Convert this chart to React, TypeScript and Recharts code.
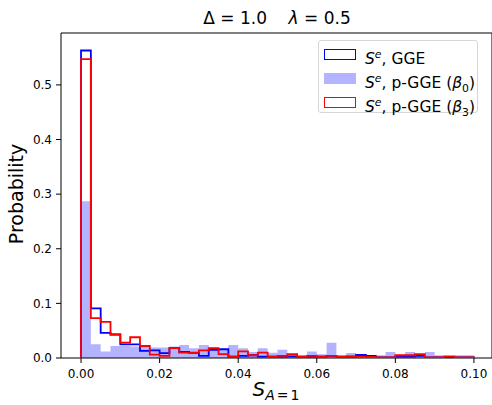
import React from 'react';
import { ComposedChart, Area, Line, XAxis, YAxis, ReferenceArea } from 'recharts';

// histogram bins: 40 bins of width 0.0025 from 0 to 0.1
const BIN_WIDTH = 0.0025;

// S^e, GGE (blue outline)
const gge = [
  0.563, 0.091, 0.046, 0.043, 0.025, 0.025, 0.013, 0.014, 0.009, 0.018,
  0.011, 0.0095, 0.004, 0.015, 0.016, 0.0025, 0.004, 0.005, 0.0025, 0.0025,
  0.0025, 0.003, 0.0025, 0.0025, 0.0025, 0.004, 0.0025, 0.0025, 0.0055, 0.004,
  0.001, 0.001, 0.0025, 0.0025, 0.004, 0.001, 0.001, 0.001, 0.001, 0.001,
];

// S^e, p-GGE (beta_0) (filled)
const pggeB0 = [
  0.287, 0.025, 0.012, 0.022, 0.022, 0.021, 0.02, 0.019, 0.019, 0.021,
  0.024, 0.018, 0.024, 0.019, 0.016, 0.024, 0.018, 0.011, 0.018, 0.0098,
  0.015, 0.006, 0.004, 0.012, 0.007, 0.028, 0.004, 0.009, 0.007, 0.004,
  0.005, 0.011, 0.004, 0.011, 0.004, 0.011, 0.005, 0.0025, 0.005, 0.005,
];

// S^e, p-GGE (beta_3) (red outline)
const pggeB3 = [
  0.547, 0.073, 0.066, 0.043, 0.028, 0.038, 0.022, 0.006, 0.004, 0.018,
  0.01, 0.01, 0.014, 0.018, 0.007, 0.0025, 0.012, 0.005, 0.01, 0.0025,
  0.004, 0.007, 0.0025, 0.004, 0.0025, 0.004, 0.0025, 0.003, 0.0025, 0.002,
  0.001, 0.001, 0.005, 0.005, 0.007, 0.001, 0.001, 0.003, 0.001, 0.001,
];

const xTicks = [0, 0.02, 0.04, 0.06, 0.08, 0.1];
const yTicks = [0, 0.1, 0.2, 0.3, 0.4, 0.5];

const X_DOMAIN: [number, number] = [-0.0051, 0.1046];
const Y_DOMAIN: [number, number] = [0, 0.595];

// step table: zero at left edge, one row per bin start, zero at right edge
const histData = [
  { x: 0, gge: 0, b0: 0, b3: 0 },
  ...gge.map((v, i) => ({ x: i * BIN_WIDTH, gge: v, b0: pggeB0[i], b3: pggeB3[i] })),
  { x: gge.length * BIN_WIDTH, gge: 0, b0: 0, b3: 0 },
];

const FONT = '"DejaVu Sans", sans-serif';
const tickStyle = { fontFamily: FONT, fontSize: 12, fill: '#000' };

const YLabel = () => (
  <text
    x={16}
    y={194}
    transform="rotate(-90, 16, 194)"
    textAnchor="middle"
    dominantBaseline="central"
    fontFamily={FONT}
    fontSize={19}
    fill="#000"
  >
    Probability
  </text>
);

const XLabel = () => (
  <text x={276} y={396} textAnchor="middle" fontFamily={FONT} fill="#000">
    <tspan fontSize={20} fontStyle="italic">S</tspan>
    <tspan fontSize={14} fontStyle="italic" dy={4}>A</tspan>
    <tspan fontSize={14} dx={2}>=</tspan>
    <tspan fontSize={14} dx={2}>1</tspan>
  </text>
);

const legendItems = [
  { kind: 'outline', color: '#0000ff', label: 'GGE', beta: null },
  { kind: 'fill', color: '#b3b3ff', label: 'p-GGE', beta: '0' },
  { kind: 'outline', color: '#ff0000', label: 'p-GGE', beta: '3' },
];

function ChartLegend() {
  return (
    <div
      style={{
        position: 'absolute',
        left: 318,
        top: 40,
        width: 160,
        height: 73,
        boxSizing: 'border-box',
        border: '1px solid #d6d6d6',
        borderRadius: 3,
        background: 'rgba(255,255,255,0.8)',
        fontFamily: FONT,
        fontSize: 15.5,
        color: '#000',
      }}
    >
      {legendItems.map((it, i) => (
        <div key={i} style={{ position: 'absolute', left: 0, top: 13.5 + i * 24 - 12, height: 24, width: '100%' }}>
          <div
            style={{
              position: 'absolute',
              left: 5,
              top: 6.5,
              width: 32,
              height: 11,
              boxSizing: 'border-box',
              border: it.kind === 'outline' ? `1.8px solid ${it.color}` : 'none',
              background: it.kind === 'outline' ? '#fff' : it.color,
            }}
          />
          <div style={{ position: 'absolute', left: 46, top: 1, whiteSpace: 'nowrap', lineHeight: '22px' }}>
            <i>S</i>
            <sup style={{ fontSize: '0.7em', fontStyle: 'italic' }}>e</sup>, {it.label}
            {it.beta !== null && (
              <>
                {' ('}
                <i>β</i>
                <sub style={{ fontSize: '0.7em' }}>{it.beta}</sub>
                {')'}
              </>
            )}
          </div>
        </div>
      ))}
    </div>
  );
}

export default function App() {
  return (
    <div style={{ position: 'absolute', left: 0, top: 0, width: 492, height: 405, background: '#fff' }}>
      <div
        style={{
          position: 'absolute',
          left: 61,
          width: 432,
          top: 8,
          textAlign: 'center',
          fontFamily: FONT,
          fontSize: 17,
          whiteSpace: 'pre',
          color: '#000',
        }}
      >
        {'Δ = 1.0    '}
        <i>λ</i>
        {' = 0.5'}
      </div>
      <ComposedChart
        width={492}
        height={405}
        data={histData}
        margin={{ top: 33, right: 0, bottom: 0, left: 0 }}
      >
        <XAxis
          dataKey="x"
          type="number"
          domain={X_DOMAIN}
          allowDataOverflow
          ticks={xTicks}
          tickFormatter={(v: number) => v.toFixed(2)}
          tick={tickStyle}
          tickSize={5}
          tickMargin={6}
          height={47}
          axisLine={false}
          tickLine={{ stroke: '#000' }}
          label={<XLabel />}
        />
        <YAxis
          type="number"
          domain={Y_DOMAIN}
          allowDataOverflow
          ticks={yTicks}
          tickFormatter={(v: number) => v.toFixed(1)}
          tick={tickStyle}
          tickSize={5}
          tickMargin={4}
          width={61}
          axisLine={false}
          tickLine={{ stroke: '#000' }}
          label={<YLabel />}
        />
        <Area
          type="stepAfter"
          dataKey="b0"
          stroke="none"
          fill="#b3b3ff"
          fillOpacity={1}
          isAnimationActive={false}
        />
        <Line
          type="stepAfter"
          dataKey="gge"
          stroke="#0000ff"
          strokeWidth={1.8}
          dot={false}
          activeDot={false}
          isAnimationActive={false}
        />
        <Line
          type="stepAfter"
          dataKey="b3"
          stroke="#ff0000"
          strokeWidth={1.8}
          dot={false}
          activeDot={false}
          isAnimationActive={false}
        />
        <ReferenceArea
          x1={X_DOMAIN[0]}
          x2={X_DOMAIN[1]}
          y1={Y_DOMAIN[0]}
          y2={Y_DOMAIN[1]}
          fill="none"
          stroke="#000"
          strokeWidth={1}
        />
      </ComposedChart>
      <ChartLegend />
    </div>
  );
}
